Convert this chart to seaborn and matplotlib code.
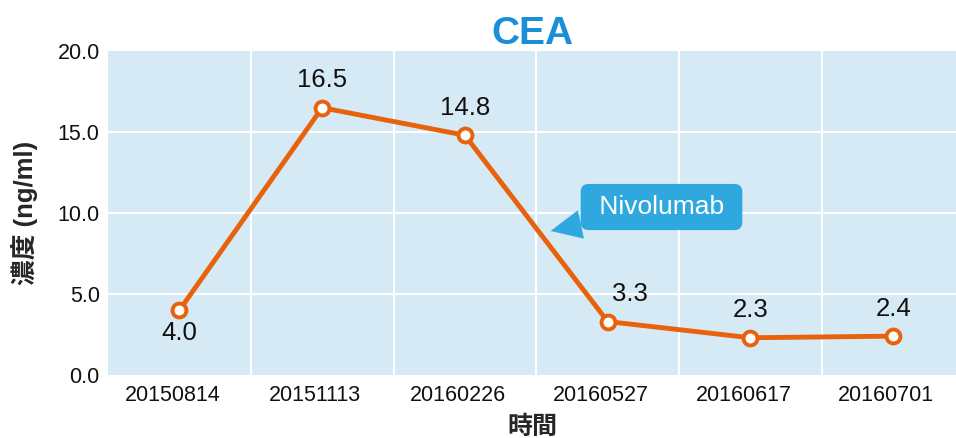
import numpy as np
import pandas as pd
import matplotlib
matplotlib.use("Agg")
import matplotlib.pyplot as plt
import matplotlib.transforms as mtransforms
import seaborn as sns

dates = ["20150814", "20151113", "20160226", "20160527", "20160617", "20160701"]
cea = [4.0, 16.5, 14.8, 3.3, 2.3, 2.4]
label_below = [True, False, False, False, False, False]
label_dx = [0, 0, 0, 16, 0, 0]
yticks = [0, 5, 10, 15, 20]

df = pd.DataFrame({"date": dates, "cea": cea})

sns.set_style("white")
plt.rcParams["font.family"] = ["Liberation Sans", "Noto Sans CJK TC", "DejaVu Sans"]

bg = "#d6eaf5"
orange = "#e8620c"
blue = "#2fa8e0"

fig = plt.figure(figsize=(9.56, 4.38), dpi=100)
ax = fig.add_axes([0.113, 0.1438, 0.887, 0.7397])
ax.set_facecolor(bg)

sns.lineplot(data=df, x="date", y="cea", ax=ax, color=orange, lw=3.5,
             marker="o", markersize=10, markerfacecolor="white",
             markeredgecolor=orange, markeredgewidth=2.8, sort=False, zorder=5)

ax.set_xlim(-0.5, len(dates) - 0.56)
ax.set_ylim(0, 20)
ax.set_yticks(yticks)
ax.set_yticklabels([f"{v:.1f}" for v in yticks])
ax.set_xticks(range(len(dates)))
ax.set_xticklabels(dates)
ax.tick_params(axis="y", length=0, labelsize=15.5, colors="#111111", pad=6)
ax.tick_params(axis="x", length=0, labelsize=15.5, colors="#111111", pad=7)
shift = mtransforms.ScaledTranslation(-5 / 72, 0, fig.dpi_scale_trans)
for lbl in ax.get_xticklabels():
    lbl.set_transform(lbl.get_transform() + shift)

# white grid: between categories and at inner y ticks
for xv in np.arange(0.5, len(dates) - 0.5, 1):
    ax.axvline(xv, color="white", lw=1.5, zorder=1)
for yv in yticks[1:-1]:
    ax.axhline(yv, color="white", lw=1.5, zorder=1)
for s in ax.spines.values():
    s.set_visible(False)

for i, (v, below, dx) in enumerate(zip(cea, label_below, label_dx)):
    ax.annotate(f"{v:.1f}", (i, v), xytext=(dx, -8 if below else 11),
                textcoords="offset points", ha="center",
                va="top" if below else "bottom", fontsize=18.5, color="#111111")

ax.annotate(" Nivolumab ", xy=(2.6, 8.89), xytext=(3.377, 10.37), ha="center", va="center",
            fontsize=19, color="white",
            bbox=dict(boxstyle="round,pad=0.42,rounding_size=0.3", fc=blue, ec="none"),
            arrowprops=dict(arrowstyle="wedge,tail_width=1.1", fc=blue, ec="none",
                            shrinkA=0, shrinkB=0),
            zorder=6)

ax.set_title("CEA", fontsize=28, fontweight="bold", color="#1a8fd8", pad=5)
ax.set_xlabel("時間", fontsize=18, fontweight="bold", labelpad=7)
ax.set_ylabel("濃度 (ng/ml)", fontsize=18.5, fontweight="bold", labelpad=14)

fig.savefig("out.png", dpi=100)
